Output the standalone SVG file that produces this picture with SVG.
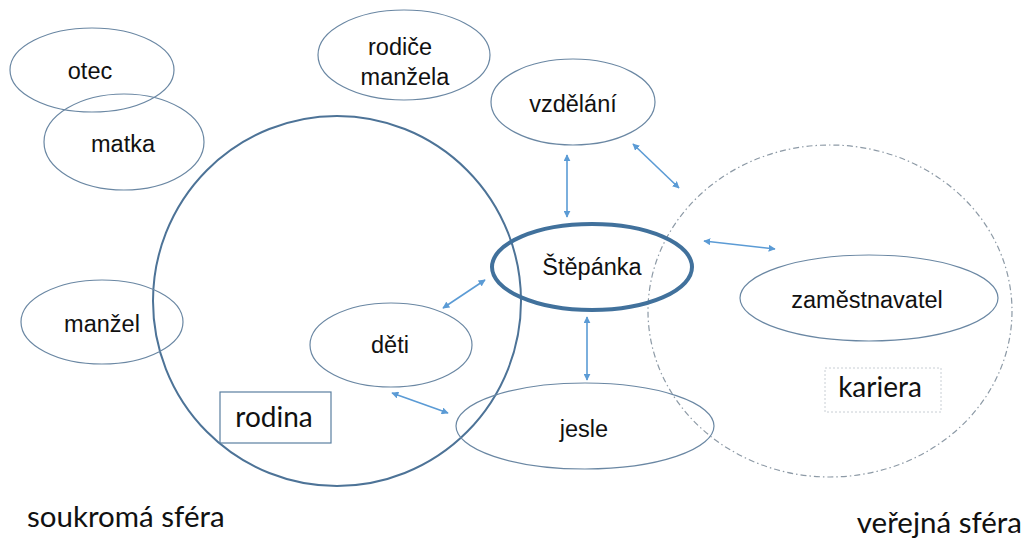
<svg xmlns="http://www.w3.org/2000/svg" width="1024" height="541" viewBox="0 0 1024 541">
<style>
.n{fill:none;stroke:#6a87a3;stroke-width:1.2}
.t{font-family:"Liberation Sans",Arial,sans-serif;font-size:23.5px;fill:#111;text-anchor:middle}
.c{font-family:Lato,"Open Sans",sans-serif;fill:#111}
.a{stroke:#5B9BD5;stroke-width:1.6;fill:none;marker-start:url(#h);marker-end:url(#h)}
</style>
<defs>
<marker id="h" viewBox="0 0 10 10" refX="9" refY="5" markerWidth="7" markerHeight="7" orient="auto-start-reverse" markerUnits="userSpaceOnUse">
<path d="M0,0 L10,5 L0,10 z" fill="#5B9BD5"/>
</marker>
</defs>
<rect width="1024" height="541" fill="#fff"/>
<g id="rodina-circle"><ellipse cx="337" cy="301" rx="184" ry="185" fill="none" stroke="#4d7397" stroke-width="2"/></g>
<g id="kariera-circle"><ellipse cx="830" cy="311" rx="182" ry="166" fill="none" stroke="#8d9aa6" stroke-width="1.2" stroke-dasharray="6 3 1.5 3"/></g>
<g id="otec"><ellipse class="n" cx="92" cy="70" rx="82" ry="42"/><text class="t" x="90" y="79">otec</text></g>
<g id="matka"><ellipse class="n" cx="124" cy="142" rx="80" ry="48"/><text class="t" x="123" y="152">matka</text></g>
<g id="rodice-manzela"><ellipse class="n" cx="404" cy="55" rx="86" ry="45"/><text class="t" x="400" y="55">rodiče</text><text class="t" x="405" y="85">manžela</text></g>
<g id="vzdelani"><ellipse class="n" cx="573" cy="102" rx="82" ry="43"/><text class="t" x="573" y="112">vzdělání</text></g>
<g id="stepanka"><ellipse cx="592" cy="267" rx="100" ry="43" fill="none" stroke="#41719C" stroke-width="4"/><text class="t" x="592" y="275">Štěpánka</text></g>
<g id="zamestnavatel"><ellipse class="n" cx="869" cy="298" rx="129" ry="43"/><text class="t" x="867" y="308">zaměstnavatel</text></g>
<g id="manzel"><ellipse class="n" cx="102" cy="322" rx="81" ry="42"/><text class="t" x="102" y="332">manžel</text></g>
<g id="deti"><ellipse class="n" cx="391" cy="345" rx="81" ry="42"/><text class="t" x="390" y="353">děti</text></g>
<g id="jesle"><ellipse class="n" cx="585" cy="426" rx="129" ry="43"/><text class="t" x="584" y="437">jesle</text></g>
<g id="rodina-label"><rect x="220" y="392" width="111" height="51" fill="#fff" stroke="#5a7fa0" stroke-width="1.2"/><text class="c" x="274" y="427" font-size="28" text-anchor="middle">rodina</text></g>
<g id="kariera-label"><rect x="825" y="368" width="116" height="44" fill="#fff" stroke="#c8ced4" stroke-width="1" stroke-dasharray="2 2"/><text class="c" x="880" y="397" font-size="28" text-anchor="middle">kariera</text></g>
<g id="spheres"><text class="c" x="27" y="527" font-size="29.5">soukromá sféra</text><text class="c" x="1022" y="533" font-size="29.5" text-anchor="end">veřejná sféra</text></g>
<g id="connectors">
<line class="a" x1="567" y1="155" x2="567" y2="217"/>
<line class="a" x1="633" y1="144" x2="679" y2="188"/>
<line class="a" x1="704" y1="241" x2="775" y2="249"/>
<line class="a" x1="587" y1="317" x2="587" y2="380"/>
<line class="a" x1="443" y1="308" x2="485" y2="280"/>
<line class="a" x1="392" y1="393" x2="448" y2="413"/>
</g>
</svg>
